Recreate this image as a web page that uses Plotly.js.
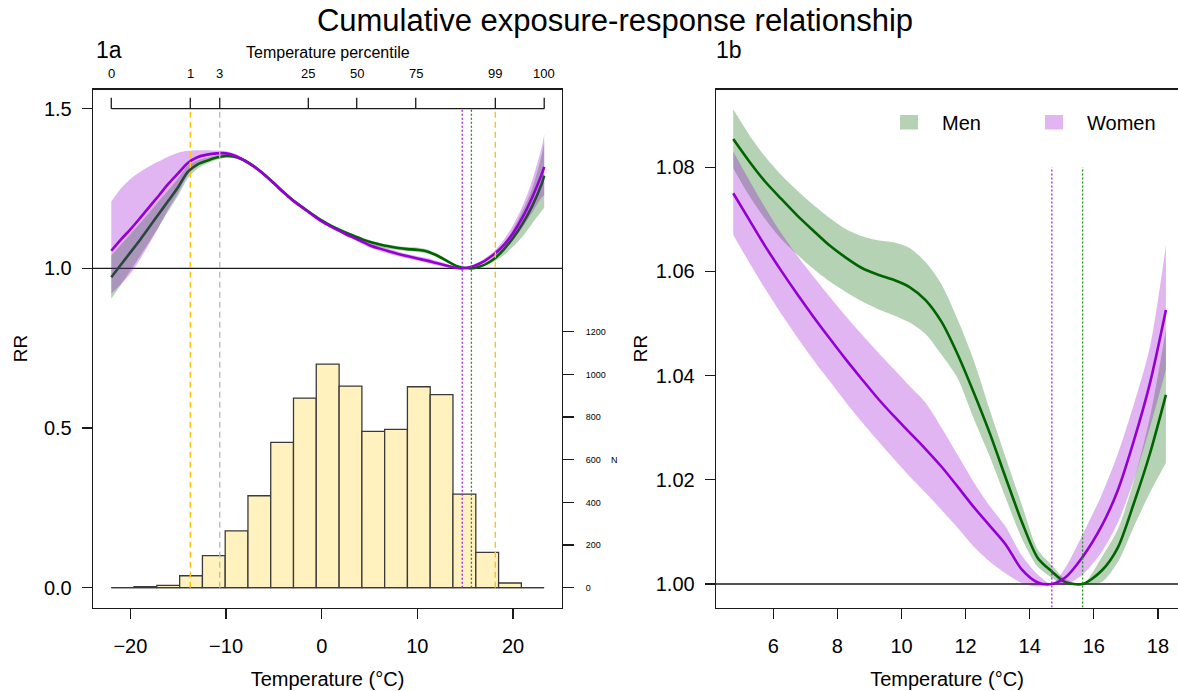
<!DOCTYPE html>
<html><head><meta charset="utf-8">
<script src="https://cdn.plot.ly/plotly-3.0.1.min.js"></script>
<style>html,body{margin:0;padding:0;background:#fff}#chart{width:1178px;height:691px}</style>
</head><body><div id="chart"></div>
<script>
// ---------- data: panel 1a (full temperature range) ----------
const lTemp = [-22,-21,-20,-19,-18,-17,-16,-15,-14,-13,-12,-11,-10,-9,-8,-7,-6,-5,-4,-3,-2,-1,0,1,2,3,4,5,6,7,8,9,10,11,12,13,14,14.69,15.65,16,17,18,19,20,21,22,23,23.26];
const lMen = [0.972,1.011,1.050,1.089,1.130,1.172,1.213,1.255,1.302,1.325,1.337,1.347,1.352,1.349,1.337,1.318,1.294,1.267,1.239,1.213,1.191,1.170,1.150,1.133,1.119,1.106,1.094,1.083,1.0755,1.069,1.0638,1.0602,1.058,1.053,1.041,1.025,1.0085,1.0024,1.0,1.0013,1.0108,1.029,1.058,1.095,1.140,1.195,1.265,1.290];
const lMenLo = [0.905,0.948,0.993,1.038,1.084,1.132,1.180,1.228,1.282,1.312,1.328,1.340,1.346,1.344,1.333,1.314,1.290,1.263,1.235,1.209,1.187,1.166,1.146,1.129,1.115,1.102,1.089,1.0775,1.068,1.061,1.0568,1.0533,1.051,1.0465,1.0355,1.0205,1.0055,1.0012,1.0,0.9999,1.0078,1.021,1.040,1.068,1.100,1.140,1.180,1.190];
const lMenHi = [1.040,1.074,1.107,1.141,1.176,1.212,1.246,1.282,1.322,1.338,1.346,1.354,1.358,1.354,1.341,1.322,1.298,1.271,1.243,1.217,1.195,1.174,1.154,1.137,1.123,1.110,1.099,1.0885,1.0795,1.0735,1.0694,1.0668,1.0654,1.060,1.047,1.0295,1.0115,1.0036,1.0,1.0028,1.0142,1.038,1.076,1.122,1.180,1.250,1.355,1.395];
const lWomen = [1.055,1.090,1.122,1.157,1.193,1.229,1.266,1.298,1.330,1.348,1.356,1.360,1.360,1.352,1.336,1.317,1.293,1.266,1.238,1.212,1.190,1.168,1.147,1.130,1.115,1.100,1.087,1.0725,1.0625,1.0535,1.0452,1.0375,1.0307,1.0242,1.0166,1.0092,1.0017,1.0,1.0052,1.0085,1.0228,1.044,1.072,1.110,1.160,1.222,1.295,1.318];
const lWomenLo = [0.921,0.950,0.983,1.028,1.078,1.131,1.187,1.237,1.293,1.326,1.342,1.352,1.353,1.346,1.331,1.313,1.289,1.262,1.234,1.208,1.186,1.164,1.143,1.126,1.111,1.096,1.080,1.0645,1.0545,1.046,1.038,1.0305,1.024,1.017,1.0095,1.004,0.9998,1.0,1.0018,1.004,1.0165,1.036,1.058,1.088,1.128,1.175,1.222,1.228];
const lWomenHi = [1.209,1.250,1.280,1.302,1.320,1.335,1.350,1.362,1.368,1.370,1.370,1.369,1.367,1.358,1.341,1.321,1.297,1.270,1.242,1.216,1.194,1.172,1.151,1.134,1.119,1.104,1.094,1.0805,1.0705,1.0615,1.053,1.0446,1.038,1.0322,1.0234,1.014,1.0035,1.0,1.0095,1.0135,1.030,1.053,1.088,1.135,1.195,1.275,1.380,1.420];

// histogram of daily temperatures
const histBreaks = [-22.00,-19.62,-17.24,-14.85,-12.47,-10.09,-7.71,-5.33,-2.95,-0.57,1.82,4.20,6.58,8.96,11.34,13.72,16.11,18.49,20.87,23.25];
const histCounts = [0,5,11,56,150,266,431,681,889,1048,945,733,742,942,905,439,166,22,0];
const nTicks = [0,200,400,600,800,1000,1200];

// temperature percentiles (top axis)
const pctLabels = ['0','1','3','25','50','75','99','100'];
const pctTemps = [-22.0,-13.74,-10.66,-1.40,3.66,9.83,18.15,23.26];

// minimum mortality temperatures
const mmtWomen = 14.69;
const mmtMen = 15.65;

// ---------- data: panel 1b (zoom) ----------
const rTemp = [4.75,5.25,5.75,6.25,6.75,7.25,7.75,8.25,8.75,9.25,9.75,10.25,10.75,11.25,11.75,12.25,12.75,13.25,13.75,14.25,14.69,15.1,15.65,16.25,16.75,17.25,17.75,18.25];
const rMen = [1.0854,1.0811,1.0772,1.0739,1.0707,1.0678,1.0650,1.0627,1.0607,1.0594,1.0584,1.0570,1.0545,1.0503,1.0441,1.0368,1.0290,1.0204,1.0120,1.0050,1.0024,1.0004,1.0000,1.0026,1.0070,1.0155,1.0250,1.0363];
const rMenLo = [1.0798,1.0745,1.0700,1.0662,1.0632,1.0605,1.0581,1.0561,1.0543,1.0528,1.0516,1.0502,1.0480,1.0440,1.0395,1.0318,1.0245,1.0165,1.0088,1.0033,1.0012,0.9998,1.0000,1.0004,1.0042,1.0110,1.0175,1.0232];
const rMenHi = [1.0911,1.0862,1.0820,1.0785,1.0755,1.0728,1.0703,1.0682,1.0668,1.0660,1.0656,1.0645,1.0618,1.0575,1.0508,1.0430,1.0335,1.0243,1.0153,1.0066,1.0036,1.0010,1.0000,1.0052,1.0105,1.0198,1.0320,1.0488];
const rWomen = [1.0750,1.0699,1.0648,1.0601,1.0556,1.0513,1.0472,1.0432,1.0394,1.0357,1.0323,1.0291,1.0259,1.0225,1.0187,1.0148,1.0112,1.0076,1.0028,1.0003,1.0000,1.0012,1.0052,1.0112,1.0180,1.0275,1.0385,1.0526];
const rWomenLo = [1.0670,1.0617,1.0566,1.0518,1.0473,1.0430,1.0390,1.0350,1.0312,1.0276,1.0241,1.0207,1.0175,1.0142,1.0108,1.0072,1.0043,1.0020,1.0002,0.9995,1.0000,0.9998,1.0018,1.0062,1.0118,1.0200,1.0300,1.0411];
const rWomenHi = [1.0830,1.0775,1.0722,1.0673,1.0630,1.0590,1.0552,1.0515,1.0480,1.0446,1.0413,1.0380,1.0348,1.0300,1.0248,1.0196,1.0150,1.0110,1.0055,1.0018,1.0000,1.0030,1.0095,1.0172,1.0250,1.0345,1.0455,1.0650];

const seriesNames = ['Men','Women'];

// ---------- styling ----------
const W = 1178, H = 691;
const PX = x => x / W, PY = y => 1 - y / H;
const FONT = 'Liberation Sans, Arial, Helvetica, sans-serif';
const GREEN = '#006400', PURPLE = '#9400D3';
const GREEN_F = 'rgba(0,100,0,0.29)', PURPLE_F = 'rgba(148,0,211,0.29)';
const INK = '#1a1a1a';

function band(x, lo, hi, fill, xa, ya) {
  return [
    {x: x, y: lo, type: 'scatter', mode: 'lines', line: {width: 0, color: fill, shape: 'spline', smoothing: 0.8}, xaxis: xa, yaxis: ya, showlegend: false, hoverinfo: 'skip'},
    {x: x, y: hi, type: 'scatter', mode: 'lines', fill: 'tonexty', fillcolor: fill, line: {width: 0, color: fill, shape: 'spline', smoothing: 0.8}, xaxis: xa, yaxis: ya, showlegend: false, hoverinfo: 'skip'}
  ];
}
function curve(x, y, color, xa, ya, name) {
  return {x: x, y: y, type: 'scatter', mode: 'lines', name: name, line: {color: color, width: 2.6, shape: 'spline', smoothing: 0.8}, xaxis: xa, yaxis: ya, showlegend: false};
}

const binCenters = histCounts.map((c, i) => (histBreaks[i] + histBreaks[i + 1]) / 2);
const binWidths = histCounts.map((c, i) => histBreaks[i + 1] - histBreaks[i]);

const traces = [].concat(
  band(lTemp, lMenLo, lMenHi, GREEN_F, 'x', 'y'),
  [curve(lTemp, lMen, GREEN, 'x', 'y', seriesNames[0])],
  band(lTemp, lWomenLo, lWomenHi, PURPLE_F, 'x', 'y'),
  [curve(lTemp, lWomen, PURPLE, 'x', 'y', seriesNames[1])],
  [{type: 'bar', x: binCenters, y: histCounts, width: binWidths, xaxis: 'x', yaxis: 'y2',
    marker: {color: '#FFF2BF', line: {color: '#3a3a3a', width: 1.3}}, showlegend: false, hoverinfo: 'skip'}],
  band(rTemp, rMenLo, rMenHi, GREEN_F, 'x2', 'y3'),
  [curve(rTemp, rMen, GREEN, 'x2', 'y3', seriesNames[0])],
  band(rTemp, rWomenLo, rWomenHi, PURPLE_F, 'x2', 'y3'),
  [curve(rTemp, rWomen, PURPLE, 'x2', 'y3', seriesNames[1])]
);

const yDom = [PY(607.5), PY(89.5)];
const axBase = {showgrid: false, zeroline: false, ticks: 'outside', ticklen: 10, tickwidth: 1.3, tickcolor: INK,
  linecolor: INK, linewidth: 1.3, tickfont: {family: FONT, size: 20, color: '#000'}};

const leftY = [-0.062, 1.56];
const countsPerRR = 1497;

const shapes = [];
// reference lines RR = 1
shapes.push({type: 'line', xref: 'x domain', x0: 0, x1: 1, yref: 'y', y0: 1, y1: 1, line: {color: INK, width: 1.3}, layer: 'below'});
shapes.push({type: 'line', xref: 'x2 domain', x0: 0, x1: 1, yref: 'y3', y0: 1, y1: 1, line: {color: INK, width: 1.3}, layer: 'below'});
// histogram baseline
shapes.push({type: 'line', xref: 'x', x0: histBreaks[0], x1: histBreaks[histBreaks.length - 1], yref: 'y', y0: 0, y1: 0, line: {color: '#3a3a3a', width: 1.3}});
// vertical reference lines, panel a
const vl = (x, color, dash, w) => shapes.push({type: 'line', xref: 'x', x0: x, x1: x, yref: 'y', y0: 0, y1: 1.5, line: {color: color, width: w, dash: dash}});
vl(pctTemps[1], '#FFC20E', '6px,4px', 1.4);
vl(pctTemps[6], '#FFC20E', '6px,4px', 1.4);
vl(pctTemps[2], '#BDBDBD', '6px,4px', 1.4);
vl(mmtWomen, '#A020F0', '2px,2px', 1.3);
vl(mmtMen, '#1E8C1E', '2px,2px', 1.3);
// percentile axis
shapes.push({type: 'line', xref: 'x', x0: pctTemps[0], x1: pctTemps[pctTemps.length - 1], yref: 'y', y0: 1.5, y1: 1.5, line: {color: INK, width: 1.3}});
pctTemps.forEach(t => shapes.push({type: 'line', xref: 'x', x0: t, x1: t, yref: 'y', ysizemode: 'pixel', yanchor: 1.5, y0: 0, y1: 11, line: {color: INK, width: 1.3}}));
// vertical reference lines, panel b
const yb = [0.99549, 1.09491];
shapes.push({type: 'line', xref: 'x2', x0: mmtWomen, x1: mmtWomen, yref: 'y3', y0: yb[0], y1: 1.08, line: {color: '#A020F0', width: 1.3, dash: '2px,2px'}});
shapes.push({type: 'line', xref: 'x2', x0: mmtMen, x1: mmtMen, yref: 'y3', y0: yb[0], y1: 1.08, line: {color: '#1E8C1E', width: 1.3, dash: '2px,2px'}});
// legend swatches
shapes.push({type: 'rect', xref: 'paper', yref: 'paper', x0: PX(900), x1: PX(918), y0: PY(129.5), y1: PY(115), fillcolor: GREEN_F, line: {width: 0}});
shapes.push({type: 'rect', xref: 'paper', yref: 'paper', x0: PX(1045), x1: PX(1063), y0: PY(129.5), y1: PY(115), fillcolor: PURPLE_F, line: {width: 0}});

const annotations = [];
pctTemps.forEach((t, i) => annotations.push({x: t, xref: 'x', y: 1.5, yref: 'y', yshift: 35, text: pctLabels[i], showarrow: false,
  font: {family: FONT, size: 13, color: '#000'}, xanchor: 'center', yanchor: 'middle'}));
annotations.push({x: 0.5, xref: 'x domain', y: 1.5, yref: 'y', yshift: 56, text: 'Temperature percentile', showarrow: false,
  font: {family: FONT, size: 16, color: '#000'}, yanchor: 'middle'});
annotations.push({x: 1, xref: 'x domain', xshift: 47, xanchor: 'left', y: nTicks[3], yref: 'y2', text: 'N', showarrow: false,
  font: {family: FONT, size: 9, color: '#000'}, yanchor: 'middle'});
annotations.push({x: PX(94), xref: 'paper', xanchor: 'left', y: PY(50), yref: 'paper', yanchor: 'middle', text: '1a', showarrow: false,
  font: {family: FONT, size: 23, color: '#000'}});
annotations.push({x: PX(714), xref: 'paper', xanchor: 'left', y: PY(50), yref: 'paper', yanchor: 'middle', text: '1b', showarrow: false,
  font: {family: FONT, size: 23, color: '#000'}});
annotations.push({x: PX(940), xref: 'paper', xanchor: 'left', y: PY(123), yref: 'paper', yanchor: 'middle', text: seriesNames[0], showarrow: false,
  font: {family: FONT, size: 20, color: '#000'}});
annotations.push({x: PX(1085), xref: 'paper', xanchor: 'left', y: PY(123), yref: 'paper', yanchor: 'middle', text: seriesNames[1], showarrow: false,
  font: {family: FONT, size: 20, color: '#000'}});

const layout = {
  width: W, height: H,
  margin: {l: 0, r: 0, t: 0, b: 0},
  paper_bgcolor: '#fff', plot_bgcolor: 'rgba(0,0,0,0)',
  showlegend: false,
  font: {family: FONT, color: '#000'},
  title: {text: 'Cumulative exposure-response relationship', x: PX(615), xanchor: 'center', y: PY(20), yanchor: 'middle',
    font: {family: FONT, size: 31, color: '#000'}},
  bargap: 0,
  xaxis: Object.assign({}, axBase, {domain: [PX(93), PX(562)], range: [-23.91, 25.12], anchor: 'y',
    tickvals: [-20, -10, 0, 10, 20], showline: true, mirror: true, ticklabelstandoff: 10,
    title: {text: 'Temperature (°C)', font: {family: FONT, size: 20, color: '#000'}, standoff: 16}}),
  yaxis: Object.assign({}, axBase, {domain: yDom, range: leftY, anchor: 'x',
    tickvals: [0, 0.5, 1, 1.5], tickformat: '.1f', showline: true, mirror: true, ticklabelstandoff: 6,
    title: {text: 'RR', font: {family: FONT, size: 19, color: '#000'}, standoff: 11}}),
  yaxis2: {overlaying: 'y', side: 'right', anchor: 'x', range: [leftY[0] * countsPerRR, leftY[1] * countsPerRR],
    showgrid: false, zeroline: false, showline: false, ticks: 'outside', ticklen: 11, tickwidth: 1.3, tickcolor: INK,
    tickvals: nTicks, tickfont: {family: FONT, size: 9, color: '#000'}, ticklabelstandoff: 10},
  xaxis2: Object.assign({}, axBase, {domain: [PX(716), 1], range: [4.212, 18.627], anchor: 'y3',
    tickvals: [6, 8, 10, 12, 14, 16, 18], showline: true, mirror: true, ticklabelstandoff: 10,
    title: {text: 'Temperature (°C)', font: {family: FONT, size: 20, color: '#000'}, standoff: 16}}),
  yaxis3: Object.assign({}, axBase, {domain: yDom, range: yb, anchor: 'x2',
    tickvals: [1.00, 1.02, 1.04, 1.06, 1.08], tickformat: '.2f', showline: true, mirror: false, ticklabelstandoff: 6,
    title: {text: 'RR', font: {family: FONT, size: 19, color: '#000'}, standoff: 3}}),
  shapes: shapes,
  annotations: annotations
};

Plotly.newPlot('chart', traces, layout, {displayModeBar: false, staticPlot: true});
</script></body></html>
